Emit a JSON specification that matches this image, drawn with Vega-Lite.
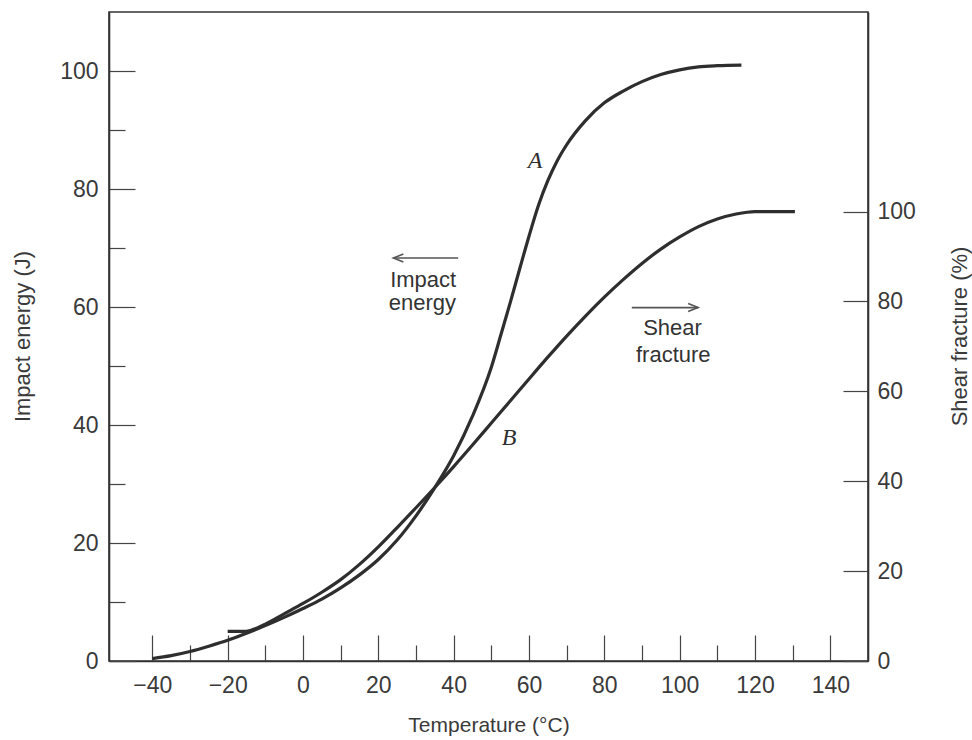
{
  "$schema": "https://vega.github.io/schema/vega-lite/v6.json",
  "width": 759,
  "height": 649,
  "autosize": "none",
  "padding": {"left": 109, "top": 12, "right": 104, "bottom": 79},
  "background": "white",
  "config": {
    "view": {"stroke": "#333333", "strokeWidth": 1.6},
    "font": "Liberation Sans",
    "axis": {
      "grid": false,
      "domainColor": "#333333",
      "domainWidth": 1.6,
      "tickColor": "#444444",
      "tickWidth": 1.2,
      "labelFont": "Liberation Sans",
      "labelFontSize": 23,
      "labelColor": "#3a3a3a",
      "titleFont": "Liberation Sans",
      "titleFontSize": 22,
      "titleFontWeight": "normal",
      "titleColor": "#3a3a3a"
    }
  },
  "datasets": {
    "curveA": [
      {"T": -40, "E": 0.4}, {"T": -35, "E": 0.9}, {"T": -30, "E": 1.6}, {"T": -25, "E": 2.5},
      {"T": -20, "E": 3.5}, {"T": -15, "E": 4.7}, {"T": -10, "E": 6.0}, {"T": -5, "E": 7.4},
      {"T": 0, "E": 8.9}, {"T": 5, "E": 10.5}, {"T": 10, "E": 12.4}, {"T": 15, "E": 14.6},
      {"T": 20, "E": 17.2}, {"T": 25, "E": 20.5}, {"T": 30, "E": 24.6}, {"T": 35, "E": 29.4},
      {"T": 40, "E": 34.8}, {"T": 45, "E": 41.5}, {"T": 50, "E": 49.8}, {"T": 52.5, "E": 55.2},
      {"T": 55, "E": 60.7}, {"T": 57.5, "E": 66.4}, {"T": 60, "E": 72.0}, {"T": 62.5, "E": 77.2},
      {"T": 65, "E": 81.4}, {"T": 67.5, "E": 84.8}, {"T": 70, "E": 87.5}, {"T": 75, "E": 91.6},
      {"T": 80, "E": 94.6}, {"T": 85, "E": 96.6}, {"T": 90, "E": 98.2}, {"T": 95, "E": 99.4},
      {"T": 100, "E": 100.2}, {"T": 105, "E": 100.7}, {"T": 110, "E": 100.9}, {"T": 116.4, "E": 101.0}
    ],
    "curveB": [
      {"T": -20, "P": 6.6}, {"T": -16, "P": 6.6}, {"T": -14, "P": 6.8}, {"T": -12, "P": 7.4},
      {"T": -10, "P": 8.2}, {"T": -5, "P": 10.5}, {"T": 0, "P": 12.8}, {"T": 5, "P": 15.3},
      {"T": 10, "P": 18.1}, {"T": 15, "P": 21.5}, {"T": 20, "P": 25.4}, {"T": 25, "P": 29.7},
      {"T": 30, "P": 34.1}, {"T": 35, "P": 38.6}, {"T": 40, "P": 43.25}, {"T": 45, "P": 48.05},
      {"T": 50, "P": 52.95}, {"T": 55, "P": 57.85}, {"T": 60, "P": 62.75}, {"T": 65, "P": 67.6},
      {"T": 70, "P": 72.3}, {"T": 75, "P": 76.75}, {"T": 80, "P": 80.95}, {"T": 85, "P": 84.85},
      {"T": 90, "P": 88.45}, {"T": 95, "P": 91.65}, {"T": 100, "P": 94.35}, {"T": 105, "P": 96.65},
      {"T": 110, "P": 98.35}, {"T": 115, "P": 99.45}, {"T": 120, "P": 100}, {"T": 130.6, "P": 100}
    ],
    "arrows": [
      {"T": 24.0, "T2": 41.2, "E": 68.3, "dir": "left", "tip": 24.0},
      {"T": 87.3, "T2": 104.9, "E": 59.9, "dir": "right", "tip": 104.9}
    ],
    "notes": [
      {"T": 31.9, "E": 63.4, "label": "Impact"},
      {"T": 31.7, "E": 59.5, "label": "energy"},
      {"T": 98.1, "E": 55.3, "label": "Shear"},
      {"T": 98.3, "E": 50.7, "label": "fracture"}
    ],
    "letters": [
      {"T": 61.6, "E": 83.5, "label": "A"},
      {"T": 54.7, "E": 36.6, "label": "B"}
    ]
  },
  "layer": [
    {
      "layer": [
        {
          "data": {"name": "curveA"},
          "mark": {"type": "line", "interpolate": "monotone", "color": "#2e2e2e", "strokeWidth": 3.2},
          "encoding": {
            "x": {
              "field": "T", "type": "quantitative",
              "scale": {"domain": [-51.5, 150], "nice": false, "zero": false},
              "axis": {
                "title": "Temperature (°C)",
                "titleFontSize": 21,
                "values": [-40, -30, -20, -10, 0, 10, 20, 30, 40, 50, 60, 70, 80, 90, 100, 110, 120, 130, 140],
                "labelExpr": "datum.value % 20 === 0 ? datum.label : ''",
                "tickSize": {"condition": {"test": "datum.value % 20 === 0", "value": -26}, "value": -16},
                "labelPadding": 39,
                "titleX": 379.5,
                "titleY": 70,
                "titleBaseline": "alphabetic",
                "titleAlign": "center"
              }
            },
            "y": {
              "field": "E", "type": "quantitative",
              "scale": {"domain": [0, 110], "nice": false},
              "axis": {
                "title": "Impact energy (J)",
                "orient": "left",
                "values": [0, 10, 20, 30, 40, 50, 60, 70, 80, 90, 100],
                "labelExpr": "datum.value % 20 === 0 ? datum.label : ''",
                "tickSize": {"condition": {"test": "datum.value % 20 === 0", "value": -26}, "value": -16},
                "labelPadding": 37,
                "titleX": -87,
                "titleY": 324,
                "titleAngle": -90,
                "titleAlign": "center",
                "titleBaseline": "middle"
              }
            }
          }
        },
        {
          "data": {"name": "arrows"},
          "mark": {"type": "rule", "color": "#555555", "strokeWidth": 1.6},
          "encoding": {
            "x": {"field": "T", "type": "quantitative", "scale": {"domain": [-51.5, 150], "nice": false, "zero": false}},
            "x2": {"field": "T2"},
            "y": {"field": "E", "type": "quantitative", "scale": {"domain": [0, 110], "nice": false}}
          }
        },
        {
          "data": {"name": "arrows"},
          "mark": {"type": "point", "filled": false, "color": "#555555", "strokeWidth": 1.6, "size": 100, "opacity": 1},
          "encoding": {
            "x": {"field": "tip", "type": "quantitative", "scale": {"domain": [-51.5, 150], "nice": false, "zero": false}},
            "y": {"field": "E", "type": "quantitative", "scale": {"domain": [0, 110], "nice": false}},
            "shape": {
              "field": "dir", "type": "nominal",
              "scale": {"domain": ["left", "right"], "range": ["M 2 -0.8 L 0 0 L 2 0.8", "M -2 -0.8 L 0 0 L -2 0.8"]},
              "legend": null
            }
          }
        },
        {
          "data": {"name": "notes"},
          "mark": {"type": "text", "font": "Liberation Sans", "fontSize": 22, "color": "#333333", "align": "center", "baseline": "alphabetic"},
          "encoding": {
            "x": {"field": "T", "type": "quantitative", "scale": {"domain": [-51.5, 150], "nice": false, "zero": false}},
            "y": {"field": "E", "type": "quantitative", "scale": {"domain": [0, 110], "nice": false}},
            "text": {"field": "label"}
          }
        },
        {
          "data": {"name": "letters"},
          "mark": {"type": "text", "font": "Liberation Serif", "fontStyle": "italic", "fontSize": 24, "color": "#2e2e2e", "align": "center", "baseline": "alphabetic"},
          "encoding": {
            "x": {"field": "T", "type": "quantitative", "scale": {"domain": [-51.5, 150], "nice": false, "zero": false}},
            "y": {"field": "E", "type": "quantitative", "scale": {"domain": [0, 110], "nice": false}},
            "text": {"field": "label"}
          }
        }
      ]
    },
    {
      "data": {"name": "curveB"},
      "mark": {"type": "line", "interpolate": "monotone", "color": "#2e2e2e", "strokeWidth": 3.2},
      "encoding": {
        "x": {"field": "T", "type": "quantitative", "scale": {"domain": [-51.5, 150], "nice": false, "zero": false}},
        "y": {
          "field": "P", "type": "quantitative",
          "scale": {"domain": [0, 144.4], "nice": false},
          "axis": {
            "title": "Shear fracture (%)",
            "orient": "right",
            "values": [0, 20, 40, 60, 80, 100],
            "tickSize": -25,
            "labelPadding": 34,
            "titleX": 91,
            "titleY": 324,
            "titleAngle": -90,
            "titleAlign": "center",
            "titleBaseline": "middle"
          }
        }
      }
    }
  ],
  "resolve": {"scale": {"y": "independent"}}
}
